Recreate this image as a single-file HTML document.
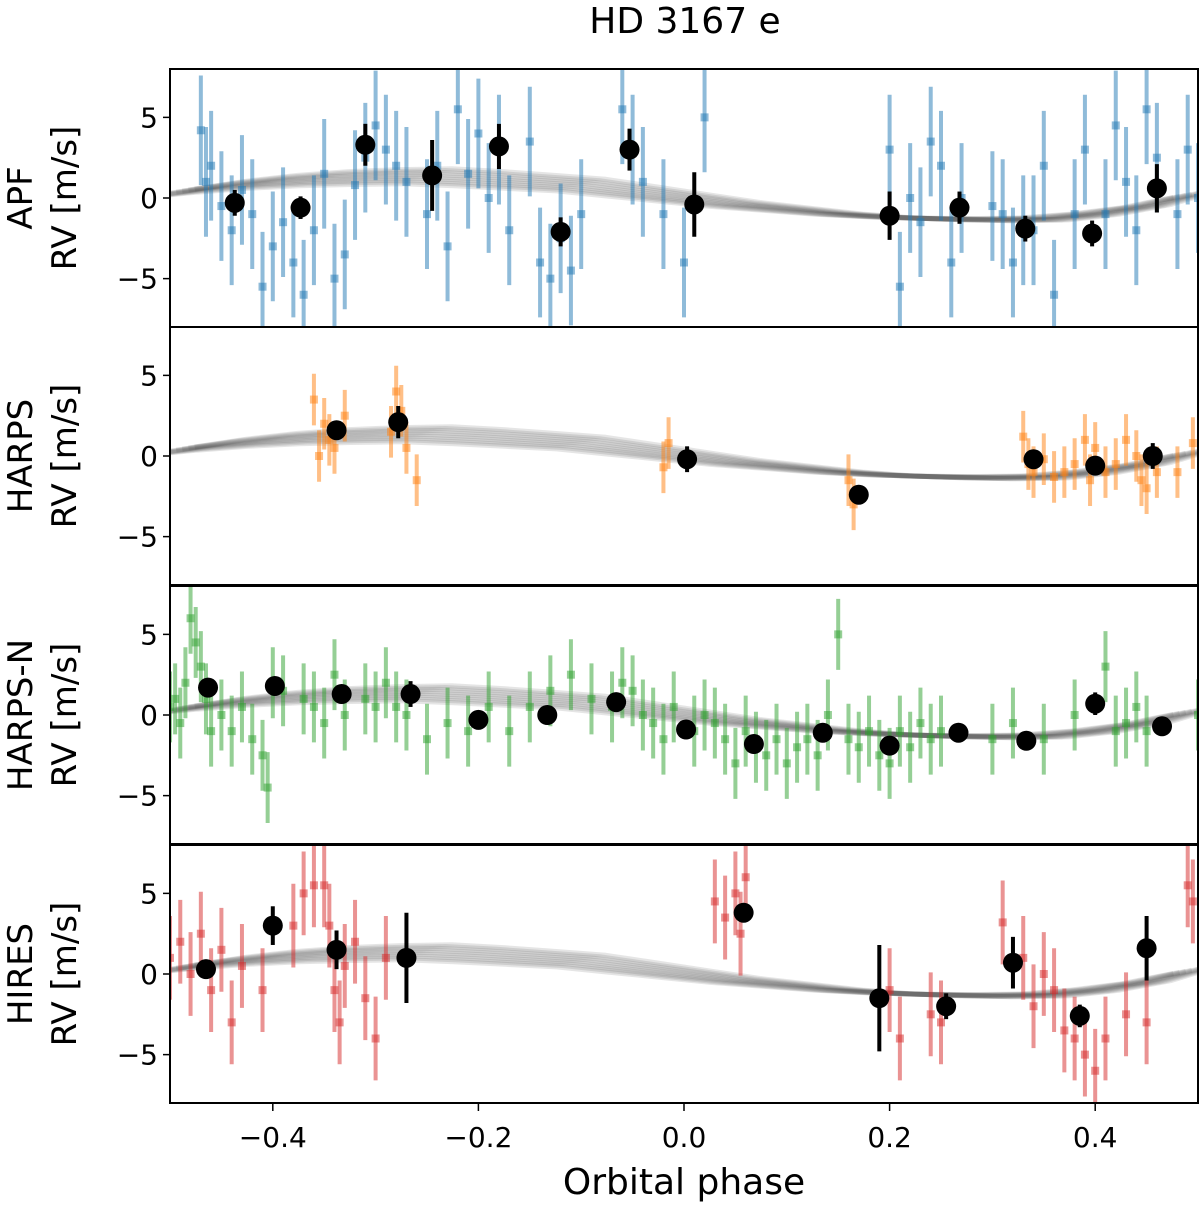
<!DOCTYPE html>
<html><head><meta charset="utf-8"><style>
body{margin:0;background:#fff}
svg{display:block;font-family:"DejaVu Sans","Liberation Sans",sans-serif}
</style></head><body>
<svg id="c" width="1200" height="1205" viewBox="0 0 1200 1205" xmlns="http://www.w3.org/2000/svg"></svg>
<script>
const instruments = ["APF","HARPS","HARPS-N","HIRES"];
const colors = ["#1f77b4","#ff7f0e","#2ca02c","#d62728"];
const rawErr = [3.4,1.6,2.2,2.6];
const modelPhase = [-0.5,-0.45,-0.4,-0.35,-0.3,-0.25,-0.2,-0.15,-0.1,-0.05,0,0.05,0.1,0.15,0.2,0.25,0.3,0.35,0.4,0.45,0.5];
const modelRv = [0.3,0.7,1.0,1.2,1.3,1.35,1.2,1.0,0.8,0.4,0,-0.4,-0.7,-1.0,-1.2,-1.3,-1.35,-1.3,-1.0,-0.5,0.3];
const xTicks = [-0.4,-0.2,0.0,0.2,0.4];
const xTickLabels = ["\u22120.4","\u22120.2","0.0","0.2","0.4"];
const yTicks = [-5,0,5];
const yTickLabels = ["\u22125","0","5"];
const rawAPF = [[-0.47,4.2],[-0.465,1],[-0.46,2],[-0.45,-0.5],[-0.44,-2],[-0.43,0.5],[-0.42,-1],[-0.41,-5.5],[-0.40,-3],[-0.39,-1.5],[-0.38,-4],[-0.37,-6],[-0.36,-2],[-0.35,1.5],[-0.34,-5],[-0.33,-3.5],[-0.32,0.8],[-0.31,2.5],[-0.30,4.5],[-0.29,3],[-0.28,2],[-0.27,1],[-0.25,-1],[-0.24,2],[-0.23,-3],[-0.22,5.5],[-0.21,1.5],[-0.20,4],[-0.19,0],[-0.18,3],[-0.17,-2],[-0.15,3.5],[-0.14,-4],[-0.13,-5],[-0.12,-2.5],[-0.11,-4.5],[-0.10,-1],[-0.06,5.5],[-0.05,3],[-0.04,1],[-0.02,-1],[0.0,-4],[0.02,5],[0.2,3],[0.21,-5.5],[0.22,0],[0.23,-1.5],[0.24,3.5],[0.25,2],[0.26,-4],[0.27,0],[0.3,-0.5],[0.31,-1],[0.32,-4],[0.33,-2],[0.34,-2],[0.35,2],[0.36,-6],[0.38,-1],[0.39,3],[0.41,-1],[0.42,4.5],[0.43,1],[0.44,-2],[0.45,5.5],[0.46,2.5],[0.48,-1],[0.49,3],[0.5,0]];
const rawHARPS = [[-0.36,3.5],[-0.355,0],[-0.35,2],[-0.345,1],[-0.34,0.5],[-0.33,2.5],[-0.285,1.5],[-0.28,4],[-0.275,2.8],[-0.27,0.5],[-0.26,-1.5],[-0.02,-0.7],[-0.015,0.8],[0.16,-1.5],[0.165,-3],[0.33,1.2],[0.335,-0.5],[0.34,-1],[0.35,-0.2],[0.36,-1.3],[0.37,-1],[0.38,-0.5],[0.39,1],[0.395,-1.5],[0.4,0.5],[0.41,-1],[0.42,-0.5],[0.43,1],[0.44,0],[0.445,-1.5],[0.45,-2],[0.46,-1],[0.48,-1],[0.495,0.8]];
const rawHARPSN = [[-0.5,0.5],[-0.495,1],[-0.49,-0.5],[-0.485,2],[-0.48,6],[-0.475,4.5],[-0.47,3],[-0.465,1],[-0.46,-1],[-0.45,0],[-0.44,-1],[-0.43,0.5],[-0.42,-1.5],[-0.41,-2.5],[-0.405,-4.5],[-0.4,2],[-0.39,1.5],[-0.37,1],[-0.36,0.5],[-0.35,-0.5],[-0.34,2.5],[-0.33,0],[-0.31,1],[-0.3,0.5],[-0.29,2],[-0.28,0.5],[-0.27,0],[-0.25,-1.5],[-0.23,-0.5],[-0.21,-1],[-0.19,0.5],[-0.17,-1],[-0.15,0.5],[-0.13,1.5],[-0.11,2.5],[-0.09,1],[-0.07,0.5],[-0.06,2],[-0.05,1.5],[-0.04,0],[-0.03,-0.5],[-0.02,-1.5],[-0.01,0.5],[0.01,-1],[0.02,0],[0.03,-0.5],[0.04,-1.5],[0.05,-3],[0.06,-1],[0.07,-2],[0.08,-2.5],[0.09,-1.5],[0.1,-3],[0.11,-2],[0.12,-1.5],[0.13,-2.5],[0.14,0],[0.15,5],[0.16,-1.5],[0.17,-2],[0.18,-1],[0.19,-2.5],[0.2,-3],[0.21,-1],[0.22,-2],[0.23,-0.5],[0.24,-1.5],[0.25,-1],[0.3,-1.5],[0.32,-0.5],[0.35,-1.5],[0.38,0],[0.41,3],[0.42,-1],[0.43,-0.5],[0.44,0.5],[0.45,-1],[0.5,0]];
const rawHIRES = [[-0.5,1],[-0.49,2],[-0.48,0],[-0.47,2.5],[-0.46,-1],[-0.45,1.5],[-0.44,-3],[-0.43,0.5],[-0.41,-1],[-0.38,3],[-0.37,5],[-0.36,5.5],[-0.35,5.5],[-0.345,3],[-0.34,-1],[-0.335,-3],[-0.33,0.5],[-0.32,2],[-0.31,-1.5],[-0.3,-4],[-0.29,1],[0.03,4.5],[0.04,3.5],[0.05,5],[0.055,2.5],[0.06,6],[0.2,-1],[0.21,-4],[0.24,-2.5],[0.25,-3],[0.31,3.2],[0.33,1],[0.34,-2],[0.35,0],[0.36,-1],[0.37,-3.5],[0.38,-4],[0.39,-5],[0.4,-6],[0.41,-4],[0.43,-2.5],[0.45,-3],[0.49,5.5],[0.495,4.5]];
const binAPF = [[-0.437,-0.3,0.8],[-0.373,-0.6,0.7],[-0.31,3.3,1.3],[-0.245,1.4,2.2],[-0.18,3.2,1.4],[-0.12,-2.1,0.9],[-0.053,3,1.3],[0.01,-0.4,2],[0.2,-1.1,1.5],[0.268,-0.6,1],[0.332,-1.9,0.8],[0.397,-2.2,0.8],[0.46,0.6,1.5]];
const binHARPS = [[-0.338,1.6,0.5],[-0.278,2.1,1],[0.003,-0.2,0.8],[0.17,-2.4,0.4],[0.34,-0.2,0.3],[0.4,-0.6,0.3],[0.456,0,0.8]];
const binHARPSN = [[-0.463,1.7,0.4],[-0.398,1.8,0.4],[-0.333,1.3,0.4],[-0.266,1.3,0.8],[-0.2,-0.3,0.4],[-0.133,0,0.4],[-0.066,0.8,0.4],[0.002,-0.9,0.4],[0.068,-1.8,0.4],[0.135,-1.1,0.4],[0.2,-1.9,0.4],[0.267,-1.1,0.4],[0.333,-1.6,0.4],[0.4,0.7,0.7],[0.465,-0.7,0.4]];
const binHIRES = [[-0.465,0.3,0.5],[-0.4,3,1.2],[-0.338,1.5,1.2],[-0.27,1,2.8],[0.058,3.8,0.6],[0.19,-1.5,3.3],[0.255,-2,0.8],[0.32,0.7,1.6],[0.385,-2.6,0.7],[0.45,1.6,2]];
const raws=[rawAPF,rawHARPS,rawHARPSN,rawHIRES];
const bins=[binAPF,binHARPS,binHARPSN,binHIRES];

const NS="http://www.w3.org/2000/svg";
const svg=document.getElementById('c');
const L=170,R=1198,panelTops=[69,327,586,845],PH=258;
const xs=p=>L+(p+0.5)*(1028);
function mk(t,a,parent){const e=document.createElementNS(NS,t);for(const k in a)e.setAttribute(k,a[k]);(parent||svg).appendChild(e);return e;}
const title=mk('text',{x:685,y:33,'font-size':36,'text-anchor':'middle'});title.textContent='HD 3167 e';


panelTops.forEach((top,i)=>{
  const ys=v=>top+PH/2-v*(PH/16);
  const g=mk('g',{});
  
  
  const cp=mk('clipPath',{id:'cp'+i},g);mk('rect',{x:L,y:top,width:R-L,height:PH},cp);
  const inner=mk('g',{'clip-path':'url(#cp'+i+')'},g);
  for(let k=-4;k<=4;k++){
    let d='';modelPhase.forEach((p,j)=>{d+=(j?'L':'M')+xs(p+k*0.006).toFixed(1)+','+ys(modelRv[j]*(1+k*0.05)+k*0.05).toFixed(1);});
    const m=mk('path',{d:d,fill:'none',stroke:'#333','stroke-width':5,'stroke-opacity':0.13,'stroke-linejoin':'round'},inner);
    
    
  }
  raws[i].forEach(([p,v])=>{
    const e=rawErr[i];
    const ln=mk('line',{x1:xs(p),x2:xs(p),y1:ys(v-e),y2:ys(v+e),stroke:colors[i],'stroke-width':4,'stroke-opacity':0.5},inner);
    
    
    const r=mk('rect',{x:xs(p)-4,y:ys(v)-4,width:8,height:8,fill:colors[i],'fill-opacity':0.5},inner);
    
    
  });
  bins[i].forEach(([p,v,e])=>{
    const ln=mk('line',{x1:xs(p),x2:xs(p),y1:ys(v-e),y2:ys(v+e),stroke:'#000','stroke-width':4},inner);
    
    
    const c=mk('circle',{cx:xs(p),cy:ys(v),r:10,fill:'#000'},inner);
    
    
  });
  const fr=mk('rect',{x:L,y:top,width:R-L,height:PH,fill:'none',stroke:'#000','stroke-width':2},g);
  
  
  yTicks.forEach((t,j)=>{
    mk('line',{x1:L-7,x2:L,y1:ys(t),y2:ys(t),stroke:'#000','stroke-width':1.5},g);
    const tx=mk('text',{x:L-12,y:ys(t)+10,'font-size':28,'text-anchor':'end'},g);tx.textContent=yTickLabels[j];
    
    
  });
  const cy=top+PH/2;
  const yl=mk('text',{transform:`translate(32,${cy}) rotate(-90)`,'font-size':34,'text-anchor':'middle'},g);
  yl.textContent=instruments[i];
  
  
  const yl2=mk('text',{transform:`translate(76,${cy}) rotate(-90)`,'font-size':34,'text-anchor':'middle'},g);
  yl2.textContent='RV [m/s]';
  
  
});
xTicks.forEach((t,j)=>{
  mk('line',{x1:xs(t),x2:xs(t),y1:1103,y2:1111,stroke:'#000','stroke-width':1.5});
  const tx=mk('text',{x:xs(t),y:1147,'font-size':28,'text-anchor':'middle'});tx.textContent=xTickLabels[j];
  
  
});
const xl=mk('text',{x:684,y:1194,'font-size':36,'text-anchor':'middle'});xl.textContent='Orbital phase';


</script>
</body></html>
